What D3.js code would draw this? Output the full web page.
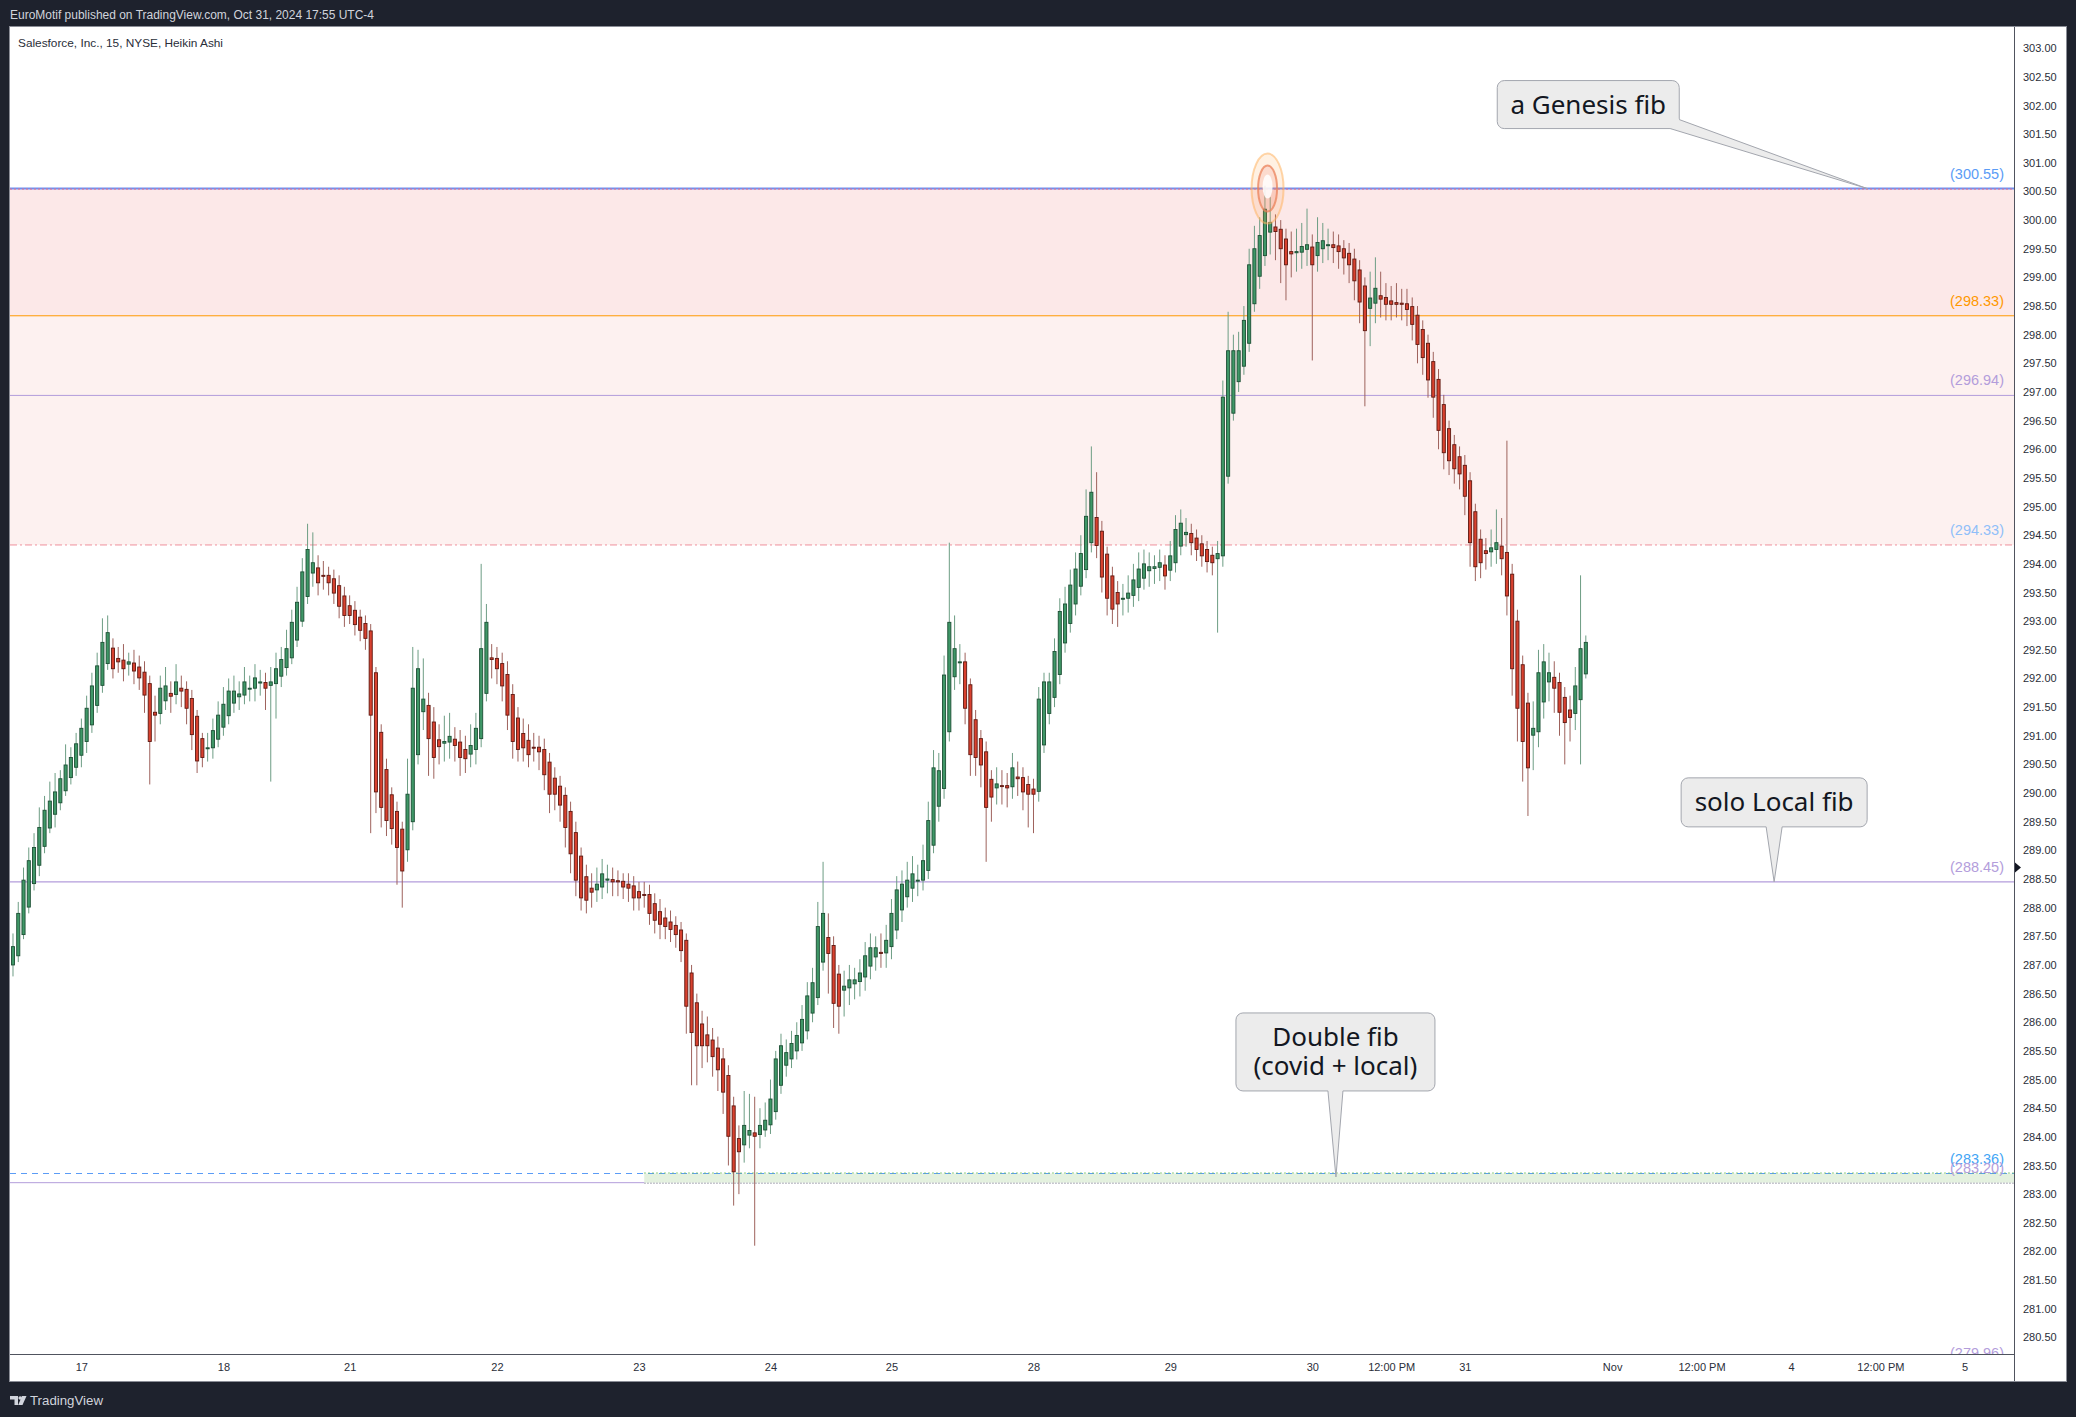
<!DOCTYPE html>
<html><head><meta charset="utf-8">
<script src="https://cdn.jsdelivr.net/npm/d3@7"></script>
<style>body{margin:0;background:#1e222d}svg{display:block}</style>
</head><body>
<svg id="c" width="2076" height="1417"></svg>
<script>
// ---------- DATA ----------
const opens=[
287.00,287.16,287.53,288.01,288.42,288.74,289.07,289.39,289.63,289.83,
290.04,290.27,290.45,290.66,290.90,291.19,291.53,291.88,292.26,292.53,
292.35,292.32,292.25,292.27,292.20,292.11,291.91,291.41,291.39,291.61,
291.74,291.72,291.83,291.81,291.65,291.34,290.95,290.79,290.79,290.94,
291.15,291.35,291.57,291.68,291.71,291.83,291.83,291.92,291.93,291.88,
291.91,292.04,292.19,292.36,292.67,293.00,293.43,293.84,293.93,293.80,
293.80,293.74,293.62,293.44,293.27,293.19,293.07,292.96,292.83,292.10,
291.06,290.41,289.97,289.68,289.37,289.01,289.50,290.67,291.42,291.53,
291.24,290.93,290.87,290.89,290.94,290.89,290.76,290.68,290.76,290.95,
291.74,292.36,292.35,292.26,292.07,291.72,291.31,291.04,290.92,290.80,
290.80,290.76,290.54,290.26,290.12,289.96,289.68,289.31,288.90,288.54,
288.34,288.31,288.36,288.48,288.49,288.47,288.46,288.41,288.38,288.28,
288.23,288.23,288.07,287.93,287.82,287.75,287.69,287.61,287.43,286.86,
286.34,285.97,285.78,285.69,285.55,285.36,285.07,284.54,283.97,283.86,
284.03,284.07,284.04,284.12,284.21,284.44,284.90,285.25,285.36,285.50,
285.64,285.85,286.16,286.43,287.05,287.48,287.34,286.84,286.56,286.60,
286.67,286.71,286.79,286.98,287.14,287.22,287.21,287.32,287.61,287.96,
288.19,288.34,288.47,288.48,288.65,289.09,289.77,290.08,291.07,292.03,
292.28,292.29,291.89,291.28,290.95,290.72,290.24,290.09,290.13,290.13,
290.11,290.28,290.27,290.15,290.07,290.03,290.84,291.39,291.67,292.07,
292.62,292.96,293.30,293.61,293.90,294.37,294.81,294.57,294.17,293.79,
293.50,293.40,293.40,293.45,293.59,293.75,293.88,293.92,293.94,293.98,
293.89,294.02,294.31,294.51,294.53,294.45,294.35,294.25,294.15,294.09,
294.14,295.53,296.63,297.18,297.45,297.85,298.54,299.02,299.38,299.79,
299.88,299.84,299.67,299.45,299.43,299.44,299.49,299.53,299.38,299.50,
299.57,299.57,299.55,299.50,299.42,299.32,299.13,298.85,298.46,298.55,
298.68,298.65,298.59,298.56,298.55,298.54,298.49,298.34,298.09,297.85,
297.53,297.22,296.78,296.36,296.08,295.87,295.72,295.45,294.91,294.43,
294.23,294.21,294.25,294.31,294.20,293.82,293.00,292.24,291.57,291.01,
291.07,291.59,291.94,292.02,291.93,291.67,291.45,291.39,291.63,292.08];
const highs=[
287.55,288.10,288.70,289.05,289.30,289.75,289.95,290.20,290.35,290.40,
290.85,290.80,291.05,291.30,291.70,292.10,292.45,293.05,293.10,292.70,
292.55,292.60,292.45,292.50,292.40,292.30,292.05,291.70,292.05,292.20,
291.95,292.25,292.05,291.95,291.80,291.45,291.05,291.05,291.30,291.60,
291.85,292.00,292.05,291.95,292.20,292.05,292.25,292.15,292.10,292.20,
292.45,292.55,292.85,293.20,293.60,294.10,294.70,294.55,294.15,294.05,
293.95,293.90,293.80,293.60,293.45,293.35,293.20,293.10,292.95,292.20,
291.20,290.60,290.10,289.85,289.50,290.60,292.55,292.50,292.35,291.75,
291.50,291.20,291.35,291.40,291.15,291.10,291.00,291.20,291.40,294.00,
293.30,292.60,292.55,292.45,292.30,291.90,291.50,291.30,291.20,291.05,
291.00,290.95,290.70,290.45,290.30,290.10,289.85,289.50,289.05,288.75,
288.60,288.70,288.85,288.75,288.70,288.65,288.60,288.60,288.55,288.45,
288.45,288.40,288.25,288.15,288.00,287.95,287.85,287.75,287.55,287.00,
286.50,286.20,286.10,285.90,285.75,285.55,285.25,284.70,284.20,284.80,
284.75,284.70,284.50,284.60,285.00,285.50,285.80,285.70,285.85,286.00,
286.30,286.70,286.95,288.10,288.80,287.90,287.50,287.00,286.90,287.00,
286.95,287.10,287.40,287.55,287.50,287.55,287.70,288.15,288.55,288.65,
288.80,288.90,288.75,289.10,289.85,290.75,290.70,292.40,294.37,293.10,
292.60,292.45,292.00,291.45,291.10,290.90,290.40,290.45,290.40,290.35,
290.70,290.55,290.45,290.30,290.25,291.85,292.10,292.10,292.70,293.40,
293.60,293.90,294.20,294.50,295.30,296.05,295.60,294.75,294.30,293.95,
293.70,293.65,293.80,294.00,294.20,294.25,294.20,294.15,294.25,294.15,
294.40,294.85,294.95,294.80,294.70,294.60,294.50,294.40,294.30,294.40,
297.20,298.40,298.00,298.05,298.50,299.50,299.90,300.05,300.60,300.40,
300.10,300.00,299.85,299.80,299.85,299.95,300.20,299.75,300.05,299.95,
299.85,299.80,299.75,299.65,299.60,299.50,299.30,299.00,299.10,299.35,
299.10,298.90,298.85,298.90,298.80,298.80,298.65,298.50,298.25,298.00,
297.70,297.40,296.95,296.50,296.25,296.05,295.90,295.60,295.05,294.60,
294.45,294.60,294.95,294.80,296.15,294.00,293.20,292.40,291.75,291.60,
292.50,292.60,292.45,292.30,292.10,291.85,291.70,292.20,293.80,292.75];
const lows=[
286.80,287.05,287.45,287.90,288.30,288.55,288.95,289.30,289.40,289.70,
289.95,290.15,290.30,290.45,290.70,291.05,291.40,291.75,292.15,292.00,
292.10,291.95,292.05,291.90,291.80,291.40,290.15,290.90,291.20,291.45,
291.40,291.55,291.50,291.20,290.75,290.35,290.45,290.55,290.60,290.80,
291.00,291.20,291.40,291.45,291.55,291.60,291.60,291.70,291.45,290.20,
291.30,291.85,292.05,292.25,292.55,292.90,293.30,293.60,293.45,293.55,
293.45,293.30,293.05,292.90,292.95,292.75,292.65,292.50,289.30,289.65,
289.40,289.25,289.10,288.40,288.00,288.80,289.35,290.50,291.10,290.30,
290.25,290.50,290.55,290.60,290.55,290.30,290.35,290.45,290.50,290.80,
291.60,292.00,291.90,291.60,291.10,290.60,290.55,290.55,290.45,290.55,
290.40,290.05,289.65,289.70,289.50,289.05,288.60,288.20,287.95,287.90,
288.00,288.10,288.15,288.25,288.20,288.20,288.15,288.10,287.95,287.95,
288.00,287.70,287.55,287.45,287.45,287.40,287.30,287.05,285.80,284.90,
284.90,285.20,285.30,285.05,284.80,284.40,283.50,282.80,283.00,283.55,
283.80,282.10,283.80,284.00,284.05,284.30,284.75,285.05,285.20,285.35,
285.50,285.70,286.00,286.30,286.90,286.50,285.90,285.80,286.10,286.30,
286.40,286.45,286.55,286.75,286.90,286.95,286.95,287.10,287.45,287.75,
288.00,288.10,288.20,288.30,288.50,288.95,289.50,289.90,290.90,291.80,
291.90,291.20,290.30,290.30,290.10,288.80,289.50,289.80,289.80,289.75,
289.90,289.95,289.70,289.40,289.30,289.85,290.70,291.20,291.50,291.90,
292.45,292.80,293.10,293.45,293.75,294.20,294.10,293.50,293.10,292.95,
292.90,293.10,293.15,293.25,293.35,293.55,293.60,293.65,293.70,293.55,
293.70,293.85,294.15,294.30,294.15,294.05,293.95,293.85,293.80,292.80,
293.95,295.40,296.50,297.00,297.30,297.70,298.40,298.80,299.20,299.40,
299.30,298.90,298.60,299.00,299.10,299.15,299.20,297.55,299.10,299.25,
299.30,299.25,299.15,299.05,298.90,298.60,298.20,296.75,297.80,298.20,
298.30,298.25,298.25,298.30,298.25,298.15,297.90,297.50,297.30,296.90,
296.55,296.00,295.65,295.55,295.40,295.30,294.85,293.95,293.70,293.75,
293.90,293.95,294.00,293.80,293.10,291.70,290.90,290.20,289.60,290.40,
290.80,291.30,291.60,291.40,291.00,290.50,290.90,291.10,290.50,292.00];
const closes=[
287.32,287.90,288.48,288.82,289.05,289.40,289.70,289.86,290.02,290.25,
290.49,290.62,290.86,291.13,291.48,291.87,292.22,292.63,292.80,292.17,
292.29,292.17,292.29,292.13,292.01,291.71,290.90,291.36,291.83,291.87,
291.69,291.94,291.78,291.48,291.02,290.56,290.62,290.79,291.09,291.36,
291.55,291.78,291.78,291.73,291.94,291.83,292.01,291.94,291.83,291.94,
292.17,292.33,292.52,292.98,293.33,293.86,294.25,294.02,293.67,293.79,
293.67,293.49,293.26,293.10,293.10,292.94,292.84,292.70,291.36,290.02,
289.75,289.52,289.38,289.05,288.64,289.98,291.83,292.17,291.64,290.95,
290.62,290.81,290.90,290.99,290.83,290.62,290.60,290.83,291.13,292.52,
292.98,292.33,292.17,291.87,291.36,290.90,290.76,290.79,290.67,290.79,
290.72,290.32,289.98,289.98,289.79,289.40,288.94,288.48,288.17,288.13,
288.27,288.41,288.59,288.50,288.45,288.45,288.36,288.34,288.17,288.17,
288.22,287.90,287.78,287.71,287.67,287.62,287.53,287.25,286.28,285.82,
285.59,285.59,285.59,285.40,285.17,284.78,284.01,283.39,283.74,284.20,
284.11,284.01,284.20,284.29,284.66,285.36,285.59,285.47,285.63,285.77,
286.05,286.46,286.69,287.67,287.90,287.20,286.33,286.28,286.63,286.74,
286.74,286.86,287.16,287.30,287.30,287.20,287.43,287.90,288.31,288.41,
288.48,288.59,288.48,288.82,289.52,290.44,290.39,292.06,292.98,292.52,
292.29,291.48,290.67,290.62,290.49,289.75,289.93,290.16,290.12,290.09,
290.44,290.25,290.02,289.98,289.98,291.64,291.94,291.94,292.47,293.17,
293.30,293.63,293.91,294.18,294.83,295.25,294.32,293.77,293.40,293.21,
293.30,293.40,293.49,293.72,293.91,294.00,293.95,293.95,294.02,293.79,
294.14,294.60,294.71,294.55,294.37,294.25,294.14,294.04,294.02,294.18,
296.91,297.72,297.72,297.72,298.25,299.22,299.50,299.73,300.19,299.96,
299.80,299.50,299.22,299.41,299.45,299.54,299.57,299.22,299.61,299.64,
299.57,299.52,299.45,299.34,299.22,298.94,298.57,298.07,298.64,298.81,
298.62,298.53,298.53,298.53,298.53,298.44,298.18,297.83,297.60,297.21,
296.91,296.33,295.94,295.80,295.66,295.57,295.18,294.37,293.95,294.02,
294.18,294.28,294.37,294.09,293.44,292.17,291.48,290.90,290.44,291.13,
292.10,292.29,292.10,291.83,291.41,291.23,291.32,291.87,292.52,292.63];

// time axis: bar index of each label, and label text
const timeTicks=[13,40,64,92,119,144,167,194,220,247,262,276,304,321,338,355,371];
const timeLabels=["17","18","21","22","23","24","25","28","29","30","12:00 PM","31","Nov","12:00 PM","4","12:00 PM","5"];
// price axis tick labels
const priceTicks=[280.5,281,281.5,282,282.5,283,283.5,284,284.5,285,285.5,286,286.5,287,287.5,288,288.5,289,289.5,290,290.5,291,291.5,292,292.5,293,293.5,294,294.5,295,295.5,296,296.5,297,297.5,298,298.5,299,299.5,300,300.5,301,301.5,302,302.5,303];
// fib levels
const fibPrices=[300.55,298.33,296.94,294.33,288.45,283.36,283.20,279.96];
const zoneBands=[[300.55,298.33],[298.33,294.33]];
const greenBand=[283.36,283.20];
const greenBandStartBar=120;
// annotations (anchor bar index + price)
const calloutTexts=[["a Genesis fib"],["solo Local fib"],["Double fib","(covid + local)"]];
const calloutBars=[352.5,334.8,251.5];
const calloutPrices=[300.55,288.45,283.30];
const highlightBar=238.5, highlightPrice=300.55;
const axisMarkerPrice=288.7;

// ---------- LAYOUT ----------
const W=2076,H=1417;
const PL=10,PR=2014,PT=27,PB=1354,AXR=2066,AXB=1381;
const svg=d3.select('#c');
const x=d3.scaleLinear().domain([-0.57,380.4]).range([PL,PR]);
const y=d3.scaleLinear().domain([280.21,303.37]).range([PB,PT]);
const FONT='"Liberation Sans", Arial, sans-serif';

svg.append('rect').attr('width',W).attr('height',H).attr('fill','#1e222d');
svg.append('rect').attr('x',PL-0.5).attr('y',PT-0.5).attr('width',AXR-PL+1).attr('height',AXB-PT+1)
  .attr('fill','#ffffff').attr('stroke','#8a8d96').attr('stroke-width',1);

svg.append('defs').append('clipPath').attr('id','plot').append('rect')
  .attr('x',PL).attr('y',PT).attr('width',PR-PL).attr('height',PB-PT);
const plot=svg.append('g').attr('clip-path','url(#plot)');

// zones
const zoneFill=['#fce8e8','#fdf1f0'];
plot.selectAll('rect.zone').data(zoneBands).enter().append('rect')
  .attr('x',PL).attr('width',PR-PL)
  .attr('y',d=>y(d[0])).attr('height',d=>y(d[1])-y(d[0]))
  .attr('fill',(d,i)=>zoneFill[i]);
// green band
plot.append('rect').attr('x',x(greenBandStartBar)).attr('width',PR-x(greenBandStartBar))
  .attr('y',y(greenBand[0])).attr('height',y(greenBand[1])-y(greenBand[0])).attr('fill','#e4f1df');

// fib lines
const fibLineStyle=[
 {c:'#6f8ff0',w:2,d:null},{c:'#ff9800',w:1,d:null},{c:'#b39ddb',w:1,d:null},
 {c:'#ef8f9c',w:1,d:'7,3,2,3'},{c:'#b39ddb',w:1.2,d:null},{c:'#5b9cf6',w:1,d:'6,5'},
 {c:'#b39ddb',w:1,d:null},{c:'#b39ddb',w:1,d:null}];
fibPrices.forEach((p,i)=>{
  const st=fibLineStyle[i];
  let x1=PL;
  if(i===6){ // solid part only left of the green band
    plot.append('line').attr('x1',PL).attr('x2',x(greenBandStartBar)).attr('y1',y(p)).attr('y2',y(p))
      .attr('stroke',st.c).attr('stroke-width',1);
    plot.append('line').attr('x1',x(greenBandStartBar)).attr('x2',PR).attr('y1',y(p)+0.5).attr('y2',y(p)+0.5)
      .attr('stroke','#8f8fa0').attr('stroke-width',1).attr('stroke-dasharray','1.5,1.5');
    return;
  }
  const l=plot.append('line').attr('x1',x1).attr('x2',PR).attr('y1',y(p)).attr('y2',y(p))
    .attr('stroke',st.c).attr('stroke-width',st.w);
  if(st.d) l.attr('stroke-dasharray',st.d);
  if(i===0){
    plot.append('line').attr('x1',PL).attr('x2',PR).attr('y1',y(p)+0.5).attr('y2',y(p)+0.5)
      .attr('stroke','#e8708a').attr('stroke-width',1).attr('stroke-dasharray','2,2');
  }
  if(i===5){
    plot.append('line').attr('x1',x(greenBandStartBar)).attr('x2',PR).attr('y1',y(p)-0.5).attr('y2',y(p)-0.5)
      .attr('stroke','#6fbf5a').attr('stroke-width',1).attr('stroke-dasharray','1.5,2.5');
  }
});

// candles
const candles=closes.map((c,i)=>({i,o:opens[i],h:highs[i],l:lows[i],c}));
const bw=3.1;
const cg=plot.append('g');
cg.selectAll('line.wick').data(candles).enter().append('line')
  .attr('x1',d=>x(d.i)).attr('x2',d=>x(d.i)).attr('y1',d=>y(d.h)).attr('y2',d=>y(d.l))
  .attr('stroke',d=>d.c>=d.o?'#6d9d84':'#9e625c').attr('stroke-width',1);
cg.selectAll('rect.body').data(candles).enter().append('rect')
  .attr('x',d=>x(d.i)-bw/2).attr('width',bw)
  .attr('y',d=>y(Math.max(d.o,d.c)))
  .attr('height',d=>Math.max(1,Math.abs(y(d.o)-y(d.c))))
  .attr('fill',d=>d.c>=d.o?'#3f9767':'#d8412f')
  .attr('stroke',d=>d.c>=d.o?'#1c4f34':'#5e1810').attr('stroke-width',0.9);

// highlight ellipses at the top
const hx=x(highlightBar),hy=y(highlightPrice);
plot.append('ellipse').attr('cx',hx).attr('cy',hy).attr('rx',16).attr('ry',35)
  .attr('fill','rgba(255,170,80,0.16)').attr('stroke','rgba(255,180,100,0.55)').attr('stroke-width',2);
plot.append('ellipse').attr('cx',hx).attr('cy',hy).attr('rx',9.5).attr('ry',23)
  .attr('fill','rgba(240,120,110,0.18)').attr('stroke','rgba(235,130,90,0.75)').attr('stroke-width',2);
plot.append('ellipse').attr('cx',hx).attr('cy',hy-2).attr('rx',5).attr('ry',12)
  .attr('fill','rgba(255,255,255,0.85)');

// fib labels
const fibLabelColor=['#5b9cf6','#ff9800','#b39ddb','#90bff9','#b39ddb','#42a5f5','#b39ddb','#b39ddb'];
plot.selectAll('text.fib').data(fibPrices).enter().append('text')
  .attr('x',2004).attr('y',d=>y(d)-10).attr('text-anchor','end')
  .attr('font-family',FONT).attr('font-size',14.5)
  .attr('fill',(d,i)=>fibLabelColor[i]).text(d=>'('+d.toFixed(2)+')');

// callouts
const calloutLayout=[
 {dx:-370,dy:-108,w:182,h:48,base:[[-9,0],[0,-9]],corner:'br'},
 {dx:-93,dy:-104,w:186,h:49,base:[[85,0],[101,0]],corner:'b'},
 {dx:-100,dy:-164,w:199,h:78,base:[[92,0],[107,0]],corner:'b'}];
calloutTexts.forEach((lines,k)=>{
  const L=calloutLayout[k];
  const tx=x(calloutBars[k]),ty=y(calloutPrices[k]);
  const bx=tx+L.dx,by=ty+L.dy;
  const g=svg.append('g');
  g.append('rect').attr('x',bx).attr('y',by).attr('width',L.w).attr('height',L.h).attr('rx',7)
    .attr('fill','#ececec').attr('stroke','#a3a6ae').attr('stroke-width',1);
  let p1,p2,q1,q2;
  if(L.corner==='br'){
    p1=[bx+L.w+L.base[0][0],by+L.h]; p2=[bx+L.w,by+L.h+L.base[1][1]];
    q1=[p1[0]-2,p1[1]-2]; q2=[p2[0]-2,p2[1]-2];
  } else {
    p1=[bx+L.base[0][0],by+L.h]; p2=[bx+L.base[1][0],by+L.h];
    q1=[p1[0],p1[1]-2]; q2=[p2[0],p2[1]-2];
  }
  g.append('path').attr('d',`M${q1}L${p1}L${tx},${ty}L${p2}L${q2}Z`).attr('fill','#ececec');
  g.append('path').attr('d',`M${p1}L${tx},${ty}L${p2}`).attr('fill','none').attr('stroke','#a3a6ae').attr('stroke-width',1);
  const n=lines.length;
  lines.forEach((t,j)=>{
    g.append('text').attr('x',bx+L.w/2).attr('y',by+L.h/2+9+(j-(n-1)/2)*29)
      .attr('text-anchor','middle').attr('font-family','"Noto Sans", "Open Sans", sans-serif')
      .attr('font-size',26).attr('fill','#131722').text(t);
  });
});

// price axis
const ya=svg.append('g').attr('transform',`translate(${PR},0)`)
  .call(d3.axisRight(y).tickValues(priceTicks).tickSize(0).tickSizeOuter(0).tickPadding(9).tickFormat(d3.format('.2f')));
ya.select('.domain').remove();
ya.selectAll('text').attr('font-family',FONT).attr('font-size',11).attr('fill','#2a2e39');
svg.append('line').attr('x1',PR+0.5).attr('x2',PR+0.5).attr('y1',PT).attr('y2',AXB).attr('stroke','#50535e');
// time axis
const xa=svg.append('g').attr('transform',`translate(0,${PB})`)
  .call(d3.axisBottom(x).tickValues(timeTicks).tickSize(0).tickSizeOuter(0).tickPadding(9).tickFormat((d,i)=>timeLabels[i]));
xa.select('.domain').remove();
xa.selectAll('text').attr('font-family',FONT).attr('font-size',11).attr('fill','#2a2e39');
svg.append('line').attr('x1',PL).attr('x2',PR).attr('y1',PB+0.5).attr('y2',PB+0.5).attr('stroke','#50535e');

// axis marker
const my=y(axisMarkerPrice);
svg.append('path').attr('d',`M${PR+1},${my-5}L${PR+7},${my}L${PR+1},${my+5}Z`).attr('fill','#131722');

// header texts
svg.append('text').attr('x',10).attr('y',19).attr('font-family',FONT).attr('font-size',12)
  .attr('fill','#d1d4dc').attr('textLength',364).attr('lengthAdjust','spacingAndGlyphs')
  .text('EuroMotif published on TradingView.com, Oct 31, 2024 17:55 UTC-4');
svg.append('text').attr('x',18).attr('y',46.5).attr('font-family',FONT).attr('font-size',11.5)
  .attr('fill','#2a2e39').attr('textLength',205).attr('lengthAdjust','spacingAndGlyphs')
  .text('Salesforce, Inc., 15, NYSE, Heikin Ashi');
// footer logo
const lg=svg.append('g').attr('fill','#d1d4dc');
lg.append('path').attr('d','M10,1396h8v9h-3.5v-5.5H10z');
lg.append('circle').attr('cx',20.2).attr('cy',1398).attr('r',1.8);
lg.append('path').attr('d','M22,1396h4.5l-4,9h-4.3z');
svg.append('text').attr('x',30).attr('y',1405).attr('font-family',FONT).attr('font-size',12)
  .attr('fill','#d1d4dc').attr('textLength',73).attr('lengthAdjust','spacingAndGlyphs').text('TradingView');
</script>
</body></html>
